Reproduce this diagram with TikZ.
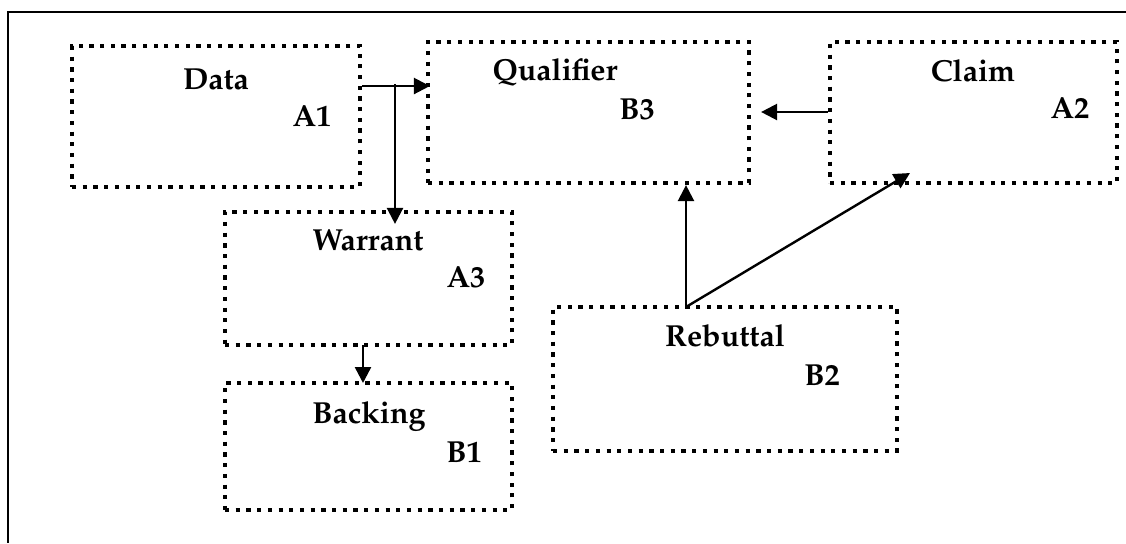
\documentclass[tikz,border=0pt]{standalone}
\usepackage[T1]{fontenc}
\usepackage{mathpazo}
\usetikzlibrary{arrows.meta,fit}
\begin{document}
\begin{tikzpicture}[x=0.5pt,y=-0.5pt,
  dotbox/.style={draw, line width=2.1pt, dash pattern=on 2.1pt off 3.25pt, inner sep=0pt},
  lbl/.style={anchor=base, inner sep=0pt, font=\fontsize{15.2}{18}\selectfont\bfseries},
  arr/.style={line width=1.2pt, -{Triangle[length=8pt,width=8pt]}},
  frame/.style={line width=0.8pt}]
\useasboundingbox (0,0) rectangle (1126,543);
\draw[frame] (1126,12) -- (8,12) -- (8,543);
% boxes
\node[dotbox, fit={(72,46) (360,187)}] (data) {};
\node[dotbox, fit={(428,42) (749,183)}] (qual) {};
\node[dotbox, fit={(830,42) (1117,183)}] (claim) {};
\node[dotbox, fit={(225,212) (512,345)}] (warr) {};
\node[dotbox, fit={(225,383) (512,510)}] (back) {};
\node[dotbox, fit={(553,307) (897,451)}] (reb) {};
% labels
\node[lbl] (tdata) at (216,89) {Data};
\node[lbl] (ta1) at (312,126) {A1};
\node[lbl] (tqual) at (555,80) {Qualifier};
\node[lbl] (tb3) at (637,119) {B3};
\node[lbl] (tclaim) at (973,81) {Claim};
\node[lbl] (ta2) at (1070,118) {A2};
\node[lbl] (twarr) at (368,250) {Warrant};
\node[lbl] (ta3) at (466,287) {A3};
\node[lbl] (tback) at (369,423) {Backing};
\node[lbl] (tb1) at (464,462) {B1};
\node[lbl] (treb) at (725,346) {Rebuttal};
\node[lbl] (tb2) at (822,385) {B2};
% connectors
\coordinate (j) at (395,84);
\coordinate (rtop) at (686,307);
\draw[arr] (data.east |- 0,86) -- ([xshift=2pt]qual.west |- 0,86);
\draw[arr] (j) -- ([yshift=-7pt]j |- warr.north);
\draw[arr] (363,345) -- (363,383);
\draw[arr] (claim.west |- 0,112) -- ([xshift=5pt]qual.east |- 0,112);
\draw[arr] (rtop) -- (rtop |- qual.south);
\draw[arr] (rtop) -- (910,173);
\end{tikzpicture}
\end{document}
